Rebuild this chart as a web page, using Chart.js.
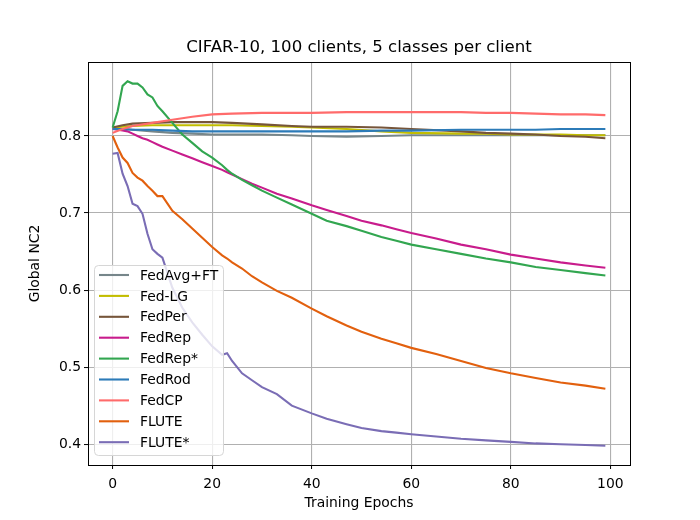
<!DOCTYPE html>
<html>
<head>
<meta charset="utf-8">
<script src="https://cdn.jsdelivr.net/npm/chart.js@4.4.1/dist/chart.umd.min.js"></script>
<style>
  body { margin: 0; background: #fff; }
  canvas { display: block; }
</style>
</head>
<body>
<canvas id="nc2Chart" width="700" height="520"></canvas>
<script>
const epochs = [0, 1, 2, 3, 4, 5, 6, 7, 8, 9, 10, 12, 14, 16, 18, 20, 22, 23, 24, 26, 28, 30,
    33, 36, 40, 43, 47, 50, 54, 57, 60, 65, 70, 75, 80, 85, 90, 95, 99];
// epochs for the flat curves near 0.8
const topEpochs = [0, 2, 4, 8, 12, 16, 20, 24, 30, 36, 40, 47, 54, 60, 70, 75, 80, 85, 90, 95, 99];

const fedAvgFT = [0.810, 0.809, 0.808, 0.806, 0.804, 0.803, 0.802, 0.802, 0.802, 0.801, 0.800, 0.799, 0.800,
    0.801, 0.801, 0.801, 0.801, 0.801, 0.801, 0.801, 0.801];
const fedLG = [0.811, 0.812, 0.813, 0.814, 0.814, 0.814, 0.814, 0.814, 0.813, 0.812, 0.811, 0.809, 0.806,
    0.804, 0.803, 0.803, 0.802, 0.802, 0.802, 0.801, 0.801];
const fedPer = [0.811, 0.814, 0.816, 0.817, 0.818, 0.818, 0.818, 0.817, 0.815, 0.813, 0.812, 0.812, 0.811,
    0.809, 0.806, 0.804, 0.803, 0.802, 0.800, 0.799, 0.797];
const fedRod = [0.809, 0.809, 0.808, 0.808, 0.807, 0.806, 0.806, 0.806, 0.806, 0.806, 0.806, 0.806, 0.807,
    0.807, 0.808, 0.808, 0.808, 0.808, 0.809, 0.809, 0.809];
const fedCP = [0.804, 0.809, 0.813, 0.817, 0.821, 0.825, 0.828, 0.829, 0.830, 0.830, 0.830, 0.831, 0.831,
    0.831, 0.831, 0.830, 0.830, 0.829, 0.828, 0.828, 0.827];

const fedRep = [0.809, 0.808, 0.807, 0.806, 0.803, 0.800, 0.797, 0.795, 0.792, 0.789, 0.786, 0.781, 0.776,
    0.771, 0.766, 0.761, 0.756, 0.753, 0.750, 0.744, 0.738, 0.733, 0.725, 0.719, 0.710, 0.704, 0.696,
    0.690, 0.684, 0.679, 0.674, 0.667, 0.659, 0.653, 0.646, 0.641, 0.636, 0.632, 0.629];
const fedRepStar = [0.811, 0.832, 0.865, 0.871, 0.868, 0.868, 0.863, 0.854, 0.850, 0.839, 0.832, 0.817, 0.802,
    0.791, 0.780, 0.772, 0.762, 0.756, 0.751, 0.743, 0.736, 0.729, 0.720, 0.711, 0.699, 0.690, 0.683,
    0.677, 0.669, 0.664, 0.659, 0.653, 0.647, 0.641, 0.636, 0.630, 0.626, 0.622, 0.619];
const flute = [0.800, 0.785, 0.772, 0.765, 0.752, 0.746, 0.742, 0.735, 0.729, 0.722, 0.722, 0.703, 0.692,
    0.680, 0.668, 0.656, 0.645, 0.641, 0.636, 0.628, 0.618, 0.610, 0.599, 0.590, 0.576, 0.566, 0.554,
    0.546, 0.537, 0.531, 0.525, 0.517, 0.508, 0.499, 0.492, 0.486, 0.480, 0.476, 0.472];
const fluteStar = [0.777, 0.778, 0.751, 0.735, 0.712, 0.709, 0.699, 0.673, 0.653, 0.647, 0.642, 0.603, 0.577,
    0.558, 0.542, 0.527, 0.516, 0.518, 0.508, 0.492, 0.483, 0.474, 0.465, 0.450, 0.440, 0.433, 0.426,
    0.421, 0.417, 0.415, 0.413, 0.410, 0.407, 0.405, 0.403, 0.401, 0.400, 0.399, 0.398];

const xTicks = [0, 20, 40, 60, 80, 100];
const yTicks = [0.4, 0.5, 0.6, 0.7, 0.8];

const chartTitle = 'CIFAR-10, 100 clients, 5 classes per client';

const series = [
    { label: 'FedAvg+FT', x: topEpochs, y: fedAvgFT, color: '#76868a' },
    { label: 'Fed-LG', x: topEpochs, y: fedLG, color: '#c2bd00' },
    { label: 'FedPer', x: topEpochs, y: fedPer, color: '#76553a' },
    { label: 'FedRep', x: epochs, y: fedRep, color: '#c81c8c' },
    { label: 'FedRep*', x: epochs, y: fedRepStar, color: '#32a650' },
    { label: 'FedRod', x: topEpochs, y: fedRod, color: '#2c7bb8' },
    { label: 'FedCP', x: topEpochs, y: fedCP, color: '#ff6b6b' },
    { label: 'FLUTE', x: epochs, y: flute, color: '#e2600e' },
    { label: 'FLUTE*', x: epochs, y: fluteStar, color: '#7a6db5' }
];

Chart.defaults.font.family = '"DejaVu Sans", sans-serif';
Chart.defaults.color = '#000';

// black frame round the plot area, like matplotlib's spines, plus the title centred over it
const frame = {
    id: 'frame',
    afterDatasetsDraw(chart) {
        const a = chart.chartArea;
        const ctx = chart.ctx;
        ctx.save();
        ctx.strokeStyle = '#000';
        ctx.lineWidth = 1;
        ctx.strokeRect(Math.round(a.left) + 0.5, Math.round(a.top) + 0.5,
            Math.round(a.right - a.left), Math.round(a.bottom - a.top));
        ctx.font = '16.6px "DejaVu Sans"';
        ctx.fillStyle = '#000';
        ctx.textAlign = 'center';
        ctx.textBaseline = 'middle';
        ctx.fillText(chartTitle, (a.left + a.right) / 2, 48);
        ctx.restore();
    }
};

// legend box in the lower left corner of the axes
const boxLegend = {
    id: 'boxLegend',
    afterDraw(chart) {
        const ctx = chart.ctx;
        const x0 = 94, y0 = 265, w = 129, h = 190, r = 4;
        ctx.save();
        ctx.beginPath();
        ctx.roundRect(x0 + 0.5, y0 + 0.5, w, h, r);
        ctx.fillStyle = 'rgba(255,255,255,0.8)';
        ctx.fill();
        ctx.strokeStyle = '#d6d6d6';
        ctx.lineWidth = 1;
        ctx.stroke();
        ctx.font = '13.9px "DejaVu Sans"';
        ctx.textBaseline = 'middle';
        series.forEach((s, i) => {
            const y = 275 + i * 20.9;
            ctx.beginPath();
            ctx.moveTo(99, y);
            ctx.lineTo(129, y);
            ctx.strokeStyle = s.color;
            ctx.lineWidth = 2.1;
            ctx.stroke();
            ctx.fillStyle = '#000';
            ctx.fillText(s.label, 140, y + 1);
        });
        ctx.restore();
    }
};

const ctx = document.getElementById('nc2Chart').getContext('2d');
new Chart(ctx, {
    type: 'line',
    data: {
        datasets: series.map((s, i) => ({
            label: s.label,
            data: s.x.map((e, k) => ({ x: e, y: s.y[k] })),
            borderColor: s.color,
            borderWidth: 2.1,
            pointRadius: 0,
            tension: 0,
            fill: false,
            order: series.length - i
        }))
    },
    options: {
        responsive: false,
        animation: false,
        devicePixelRatio: 1,
        layout: { padding: { left: 0, right: 70, top: 62, bottom: 0 } },
        plugins: {
            legend: { display: false },
            tooltip: { enabled: false },
            title: { display: false }
        },
        scales: {
            x: {
                type: 'linear',
                min: -4.95,
                max: 103.95,
                afterBuildTicks: scale => { scale.ticks = xTicks.map(v => ({ value: v })); },
                afterFit: scale => { scale.height = 55; },
                ticks: { font: { size: 13.9 }, padding: 7, maxRotation: 0, color: '#000' },
                grid: { color: '#b0b0b0', lineWidth: 1.1, tickLength: 4, tickColor: '#000', tickWidth: 1 },
                border: { display: false },
                title: {
                    display: true,
                    text: 'Training Epochs',
                    font: { size: 13.9 },
                    color: '#000',
                    padding: { top: 0, bottom: 8.5 }
                }
            },
            y: {
                type: 'linear',
                min: 0.373,
                max: 0.896,
                afterBuildTicks: scale => { scale.ticks = yTicks.map(v => ({ value: v })); },
                afterFit: scale => { scale.width = 88; },
                ticks: { font: { size: 13.9 }, padding: 3, color: '#000', callback: v => v.toFixed(1) },
                grid: { color: '#b0b0b0', lineWidth: 1.1, tickLength: 4, tickColor: '#000', tickWidth: 1 },
                border: { display: false },
                title: {
                    display: true,
                    text: 'Global NC2',
                    font: { size: 13.9 },
                    color: '#000',
                    padding: { top: 27, bottom: 0 }
                }
            }
        }
    },
    plugins: [frame, boxLegend]
});
</script>
</body>
</html>
